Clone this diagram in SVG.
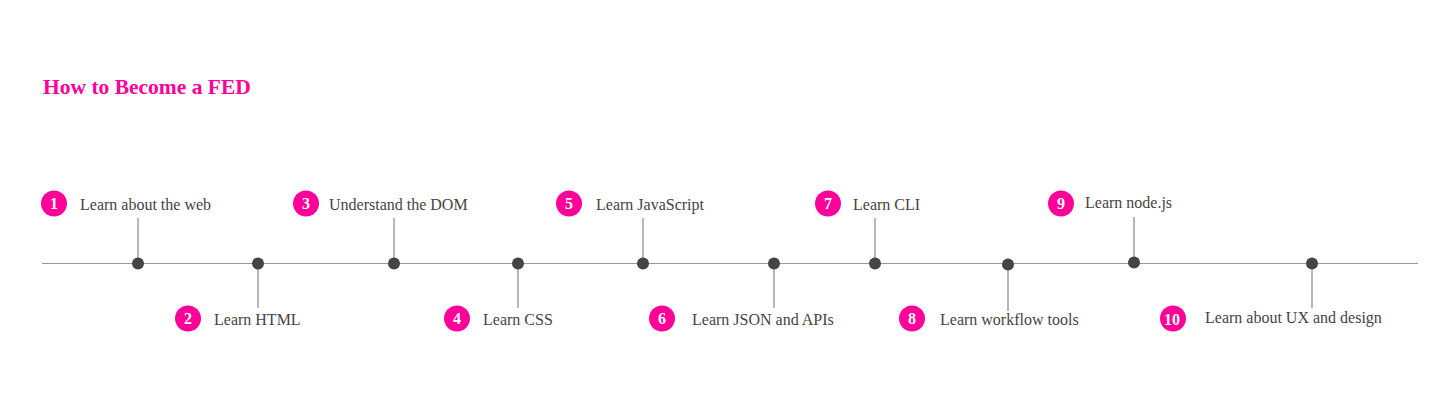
<svg xmlns="http://www.w3.org/2000/svg" width="1445" height="411" viewBox="0 0 1445 411">
<style>
.title{font-family:"Liberation Serif",serif;font-size:21.5px;font-weight:bold;fill:#ff0099}
.lbl{font-family:"Liberation Serif",serif;font-size:16px;fill:#444}
.num{font-family:"Liberation Serif",serif;font-size:16px;font-weight:bold;fill:#fff;text-anchor:middle}
.badge{fill:#ff0099}
.dot{fill:#444}
.stem{stroke:#888;stroke-width:1.2}
.axis{stroke:#999;stroke-width:1.2}
</style>
<rect width="1445" height="411" fill="#fff"/>
<text class="title" x="43" y="94">How to Become a FED</text>
<g id="connectors">
<line class="axis" x1="42" y1="263.5" x2="1418" y2="263.5"/>
<line class="stem" x1="138" y1="218" x2="138" y2="263"/>
<line class="stem" x1="258" y1="263" x2="258" y2="308"/>
<line class="stem" x1="394" y1="218" x2="394" y2="263"/>
<line class="stem" x1="518" y1="263" x2="518" y2="308"/>
<line class="stem" x1="643" y1="218" x2="643" y2="263"/>
<line class="stem" x1="774" y1="263" x2="774" y2="308"/>
<line class="stem" x1="875" y1="218" x2="875" y2="263"/>
<line class="stem" x1="1008" y1="264" x2="1008" y2="311"/>
<line class="stem" x1="1134" y1="217" x2="1134" y2="262"/>
<line class="stem" x1="1312" y1="263" x2="1312" y2="308"/>
</g>
<g id="n1"><circle class="dot" cx="138" cy="263.5" r="6"/><circle class="badge" cx="54" cy="203.5" r="13"/><text class="num" x="54" y="209">1</text><text class="lbl" x="80" y="210">Learn about the web</text></g>
<g id="n2"><circle class="dot" cx="258" cy="263.5" r="6"/><circle class="badge" cx="188" cy="318.5" r="13"/><text class="num" x="188" y="324">2</text><text class="lbl" x="214" y="325">Learn HTML</text></g>
<g id="n3"><circle class="dot" cx="394" cy="263.5" r="6"/><circle class="badge" cx="306" cy="203.5" r="13"/><text class="num" x="306" y="209">3</text><text class="lbl" x="329" y="210">Understand the DOM</text></g>
<g id="n4"><circle class="dot" cx="518" cy="263.5" r="6"/><circle class="badge" cx="457" cy="318.5" r="13"/><text class="num" x="457" y="324">4</text><text class="lbl" x="483" y="325">Learn CSS</text></g>
<g id="n5"><circle class="dot" cx="643" cy="263.5" r="6"/><circle class="badge" cx="569" cy="203.5" r="13"/><text class="num" x="569" y="209">5</text><text class="lbl" x="596" y="210">Learn JavaScript</text></g>
<g id="n6"><circle class="dot" cx="774" cy="263.5" r="6"/><circle class="badge" cx="662" cy="318.5" r="13"/><text class="num" x="662" y="324">6</text><text class="lbl" x="692" y="325">Learn JSON and APIs</text></g>
<g id="n7"><circle class="dot" cx="875" cy="263.5" r="6"/><circle class="badge" cx="828" cy="203.5" r="13"/><text class="num" x="828" y="209">7</text><text class="lbl" x="853" y="210">Learn CLI</text></g>
<g id="n8"><circle class="dot" cx="1008" cy="264.5" r="6"/><circle class="badge" cx="912" cy="318.5" r="13"/><text class="num" x="912" y="324">8</text><text class="lbl" x="940" y="325">Learn workflow tools</text></g>
<g id="n9"><circle class="dot" cx="1134" cy="262.5" r="6"/><circle class="badge" cx="1061" cy="203.5" r="13"/><text class="num" x="1061" y="209">9</text><text class="lbl" x="1085" y="208">Learn node.js</text></g>
<g id="n10"><circle class="dot" cx="1312" cy="263.5" r="6"/><circle class="badge" cx="1173" cy="318.5" r="13"/><text class="num" x="1172" y="325">10</text><text class="lbl" x="1205" y="323">Learn about UX and design</text></g>
</svg>
